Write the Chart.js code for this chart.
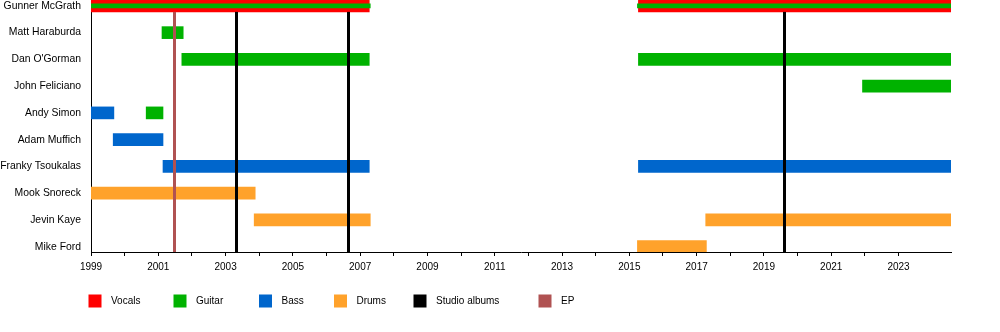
<!DOCTYPE html>
<html>
<head>
<meta charset="utf-8">
<script src="https://cdn.jsdelivr.net/npm/chart.js@4/dist/chart.umd.min.js"></script>
<style>
  html, body { margin: 0; padding: 0; background: #fff; }
  #wrap { width: 1000px; height: 332px; }
</style>
</head>
<body>
<div id="wrap"><canvas id="timeline"></canvas></div>
<script>
// band members, top to bottom
const members = ['Gunner McGrath', 'Matt Haraburda', "Dan O'Gorman", 'John Feliciano', 'Andy Simon',
    'Adam Muffich', 'Franky Tsoukalas', 'Mook Snoreck', 'Jevin Kaye', 'Mike Ford'];

// [member, from, to]
const vocals = [
    ['Gunner McGrath', 1999, 2007.27],
    ['Gunner McGrath', 2015.27, 2024.56]
];
const gunnerGuitar = [
    ['Gunner McGrath', 1999, 2007.3],
    ['Gunner McGrath', 2015.24, 2024.56]
];
const guitar = [
    ['Matt Haraburda', 2001.11, 2001.74],
    ["Dan O'Gorman", 2001.7, 2007.27],
    ["Dan O'Gorman", 2015.27, 2024.56],
    ['John Feliciano', 2021.93, 2024.56],
    ['Andy Simon', 2000.64, 2001.14]
];
const bass = [
    ['Andy Simon', 1999, 1999.68],
    ['Adam Muffich', 1999.66, 2001.14],
    ['Franky Tsoukalas', 2001.14, 2007.27],
    ['Franky Tsoukalas', 2015.27, 2024.56]
];
const drums = [
    ['Mook Snoreck', 1999, 2003.88],
    ['Jevin Kaye', 2003.85, 2007.3],
    ['Jevin Kaye', 2017.27, 2024.56],
    ['Mike Ford', 2015.24, 2017.29]
];

const studioAlbums = [2003.31, 2006.65, 2019.59];
const eps = [2001.47];

const startYear = 1999;
const endDate = 2024.56;

const colors = {
    Vocals: '#ff0000',
    Guitar: '#00b200',
    Bass: '#0066cc',
    Drums: '#ffa22b',
    'Studio albums': '#000000',
    EP: '#b05252'
};

const FONT = '"Liberation Sans", Arial, sans-serif';

function toBars(list) {
    return list.map(p => ({ y: members.indexOf(p[0]), x: [p[1], p[2]] }));
}

function barSet(label, list, thickness, order) {
    return {
        label: label,
        data: toBars(list),
        backgroundColor: colors[label],
        barThickness: thickness,
        grouped: false,
        borderWidth: 0,
        order: order
    };
}

// release markers, drawn over the bars (top row excluded)
const releaseLines = {
    id: 'releaseLines',
    afterDatasetsDraw(chart) {
        const { ctx, chartArea, scales } = chart;
        const top = scales.y.getPixelForValue(0) + 6;
        const draw = (years, color) => {
            ctx.save();
            ctx.strokeStyle = color;
            ctx.lineWidth = 3;
            years.forEach(yr => {
                const x = Math.round(scales.x.getPixelForValue(yr)) + 0.5;
                ctx.beginPath();
                ctx.moveTo(x, top);
                ctx.lineTo(x, chartArea.bottom);
                ctx.stroke();
            });
            ctx.restore();
        };
        draw(eps, colors.EP);
        draw(studioAlbums, colors['Studio albums']);
    }
};

// legend row under the axis
const legendOffsets = [0, 85, 170.5, 245.5, 325, 450];
const bottomLegend = {
    id: 'bottomLegend',
    afterDraw(chart) {
        const { ctx, chartArea } = chart;
        const names = Object.keys(colors);
        const y = 301;
        ctx.save();
        ctx.font = '10px ' + FONT;
        ctx.textBaseline = 'middle';
        names.forEach((name, i) => {
            const x = chartArea.left - 2.5 + legendOffsets[i];
            ctx.fillStyle = colors[name];
            ctx.fillRect(x, y - 6.5, 13, 13);
            ctx.fillStyle = '#000';
            ctx.fillText(name, x + 22.5, y + 0.5);
        });
        ctx.restore();
    }
};

new Chart(document.getElementById('timeline'), {
    type: 'bar',
    data: {
        datasets: [
            barSet('Guitar', gunnerGuitar, 4, 0),
            barSet('Vocals', vocals, 12, 1),
            barSet('Guitar', guitar, 12, 1),
            barSet('Bass', bass, 12, 1),
            barSet('Drums', drums, 12, 1)
        ]
    },
    options: {
        indexAxis: 'y',
        responsive: true,
        maintainAspectRatio: false,
        animation: false,
        layout: { padding: { top: 0, right: 49, left: 0, bottom: 0 } },
        plugins: {
            legend: { display: false },
            tooltip: { enabled: false }
        },
        scales: {
            x: {
                type: 'linear',
                min: startYear,
                max: endDate,
                afterBuildTicks: scale => {
                    scale.ticks = scale.ticks.filter(t => Number.isInteger(t.value));
                },
                afterFit: scale => { scale.height = 80; },
                ticks: {
                    stepSize: 1,
                    autoSkip: false,
                    maxRotation: 0,
                    padding: 5,
                    color: '#000',
                    font: { family: FONT, size: 10 },
                    callback: v => ((v - startYear) % 2 === 0 ? String(v) : '')
                },
                grid: { drawOnChartArea: false, drawTicks: true, tickLength: 4, color: '#000' },
                border: { display: true, color: '#000', width: 1 }
            },
            y: {
                type: 'linear',
                reverse: true,
                offset: false,
                min: -0.22,
                max: 9.2,
                afterBuildTicks: scale => {
                    scale.ticks = members.map((m, i) => ({ value: i }));
                },
                afterFit: scale => {
                    scale.width = 91;
                    scale.paddingTop = 0;
                    scale.paddingBottom = 0;
                },
                ticks: {
                    padding: 10,
                    color: '#000',
                    font: { family: FONT, size: 10.4 },
                    callback: v => members[v]
                },
                grid: { offset: false, drawOnChartArea: false, drawTicks: false },
                border: { display: true, color: '#000', width: 1 }
            }
        }
    },
    plugins: [releaseLines, bottomLegend]
});
</script>
</body>
</html>
